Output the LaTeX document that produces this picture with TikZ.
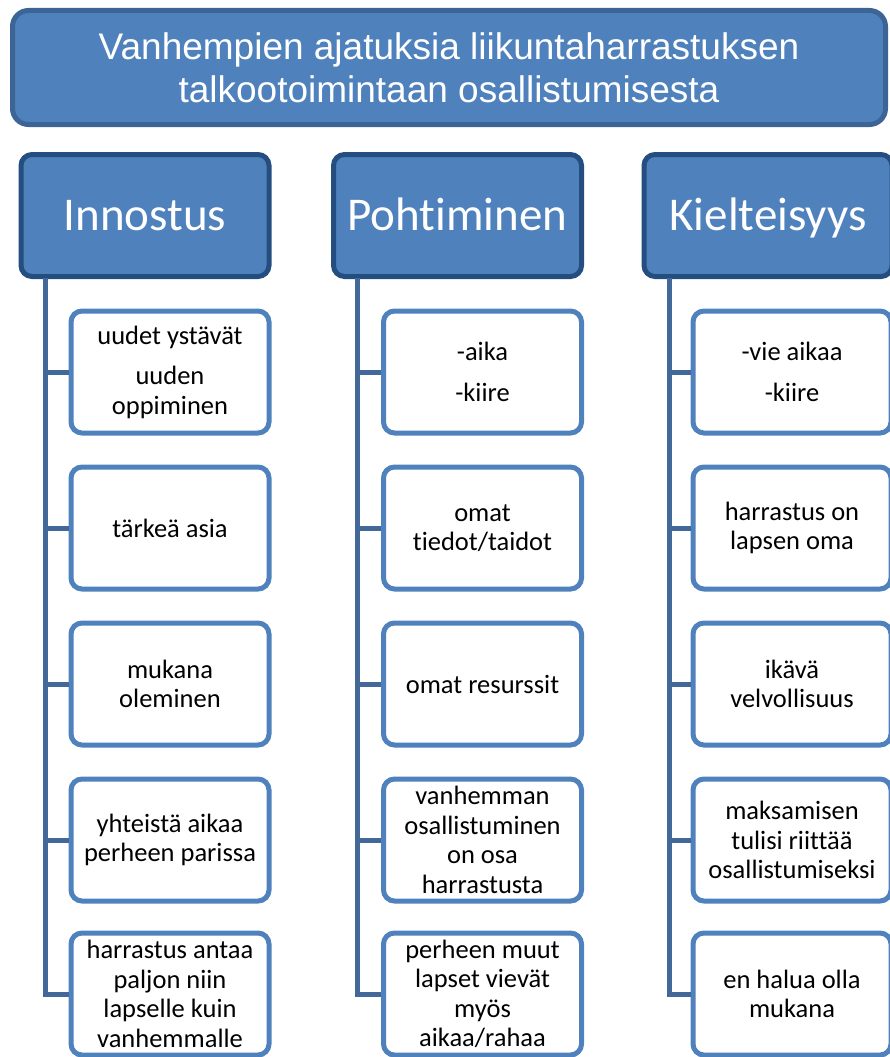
\documentclass[tikz,border=0pt]{standalone}
\usepackage{fontspec}
\setmainfont[Ligatures=NoCommon]{Carlito}
\newfontfamily\titlefont{Liberation Sans}
\usetikzlibrary{positioning}
\definecolor{boxblue}{RGB}{79,129,189}
\definecolor{headedge}{RGB}{37,78,128}
\definecolor{titleedge}{RGB}{60,100,148}
\definecolor{linkblue}{RGB}{65,104,152}

\begin{document}
\begin{tikzpicture}[
		x=1pt, y=1pt,
		titlebox/.style={draw=titleedge, fill=boxblue, line width=5pt, rounded corners=16pt,
			minimum width=873pt, minimum height=114pt, text=white, align=center,
			font=\titlefont\fontsize{37}{43}\selectfont},
		headbox/.style={draw=headedge, fill=boxblue, line width=5pt, rounded corners=11pt,
			minimum width=248pt, minimum height=122pt, text=white, inner sep=0pt,
			text height=30pt, text depth=0pt,
			font=\fontsize{47}{50}\selectfont},
		itembox/.style={draw=boxblue, fill=white, line width=5pt, rounded corners=11pt,
			minimum width=198pt, minimum height=122pt, text=black, align=center, inner sep=2pt,
			font=\fontsize{26.5}{29.5}\selectfont},
		link/.style={draw=linkblue, line width=5pt}
		]
		\useasboundingbox (0,0) rectangle (890,-1057);
		
		% ==========================================
		% Title
		% ==========================================
		\node[titlebox] (title) at (449,-67.5)
		{Vanhempien ajatuksia liikuntaharrastuksen\\talkootoimintaan osallistumisesta};
		
		% ==========================================
		% 1. Innostus
		% ==========================================
		\node[headbox] (innostus) at (145,-215.5) {Innostus};
		\coordinate (i0) at (45,-278);
		
		\node[itembox] (i1) at (170,-372) {uudet ystävät\\[11pt]uuden\\oppiminen};
		\node[itembox] (i2) at (170,-528) {tärkeä asia};
		\node[itembox] (i3) at (170,-684) {mukana\\oleminen};
		\node[itembox] (i4) at (170,-840) {yhteistä aikaa\\perheen parissa};
		\node[itembox] (i5) at (170,-994) {harrastus antaa\\paljon niin\\lapselle kuin\\vanhemmalle};
		
		\draw[link] (i0) |- (i5.west);
		\draw[link] (i0 |- i1.west) -- (i1.west);
		\draw[link] (i0 |- i2.west) -- (i2.west);
		\draw[link] (i0 |- i3.west) -- (i3.west);
		\draw[link] (i0 |- i4.west) -- (i4.west);
		
		% ==========================================
		% 2. Pohtiminen
		% ==========================================
		\node[headbox] (pohtiminen) at (457.5,-215.5) {Pohtiminen};
		\coordinate (p0) at (357,-278);
		
		\node[itembox] (p1) at (482.5,-372) {-aika\\[11pt]-kiire};
		\node[itembox] (p2) at (482.5,-528) {omat\\tiedot/taidot};
		\node[itembox] (p3) at (482.5,-684) {omat resurssit};
		\node[itembox] (p4) at (482.5,-840) {vanhemman\\osallistuminen\\on osa\\harrastusta};
		\node[itembox] (p5) at (482.5,-994) {perheen muut\\lapset vievät\\myös\\aikaa/rahaa};
		
		\draw[link] (p0) |- (p5.west);
		\draw[link] (p0 |- p1.west) -- (p1.west);
		\draw[link] (p0 |- p2.west) -- (p2.west);
		\draw[link] (p0 |- p3.west) -- (p3.west);
		\draw[link] (p0 |- p4.west) -- (p4.west);
		
		% ==========================================
		% 3. Kielteisyys
		% ==========================================
		\node[headbox] (kielteisyys) at (768,-215.5) {Kielteisyys};
		\coordinate (k0) at (669,-278);
		
		\node[itembox] (k1) at (792,-372) {-vie aikaa\\[11pt]-kiire};
		\node[itembox] (k2) at (792,-528) {harrastus on\\lapsen oma};
		\node[itembox] (k3) at (792,-684) {ikävä\\velvollisuus};
		\node[itembox] (k4) at (792,-840) {maksamisen\\tulisi riittää\\osallistumiseksi};
		\node[itembox] (k5) at (792,-994) {en halua olla\\mukana};
		
		\draw[link] (k0) |- (k5.west);
		\draw[link] (k0 |- k1.west) -- (k1.west);
		\draw[link] (k0 |- k2.west) -- (k2.west);
		\draw[link] (k0 |- k3.west) -- (k3.west);
		\draw[link] (k0 |- k4.west) -- (k4.west);
		
	\end{tikzpicture}
\end{document}
